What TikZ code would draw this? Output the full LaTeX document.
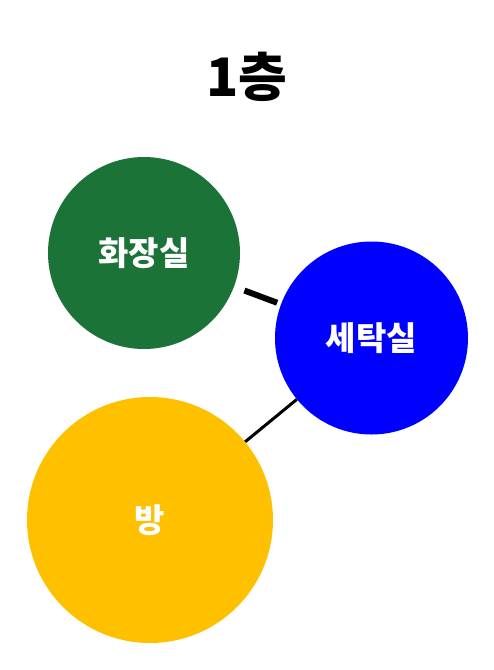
\documentclass[tikz,border=0pt]{standalone}
\usepackage{fontspec}
\setmainfont{Noto Sans CJK KR}
\definecolor{wcgreen}{RGB}{27,115,56}
\definecolor{roomyellow}{RGB}{255,192,0}
\tikzset{
  room/.style={circle, inner sep=0pt, text=white, font=\fontsize{33}{36}\selectfont\bfseries},
  link/.style={line width=3pt, black}
}
\begin{document}
\begin{tikzpicture}[x=1pt, y=-1pt]
    % Canvas
    \useasboundingbox (0, 0) rectangle (494, 670);

    % Title
    \node (title) at (247, 77) {\fontsize{53}{56}\selectfont\bfseries 1층};

    % Rooms
    \node[room, fill=wcgreen, minimum size=192pt] (wc) at (144, 253) {화장실};
    \node[room, fill=blue, minimum size=193pt] (laundry) at (371.5, 338) {세탁실};
    \node[room, fill=roomyellow, minimum size=246pt] (bang) at (150, 520) {방};

    % Links between rooms
    \draw[link, line width=6pt, shorten <=11pt, shorten >=4pt] (wc) -- (laundry);
    \draw[link] (laundry) -- (bang);
\end{tikzpicture}
\end{document}
